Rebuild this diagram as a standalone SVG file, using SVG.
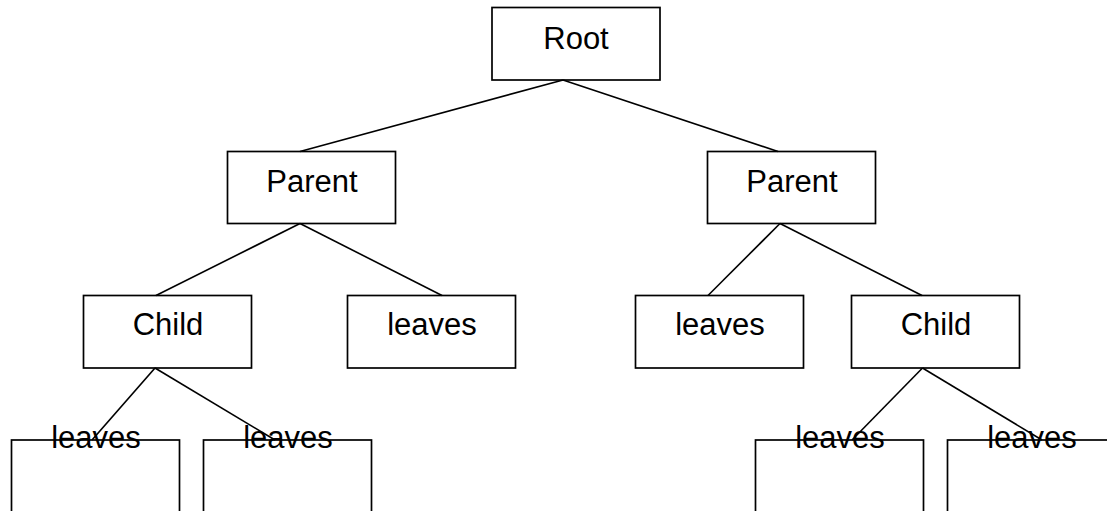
<svg xmlns="http://www.w3.org/2000/svg" width="1107" height="511" viewBox="0 0 1107 511">
<style>
.box{fill:#fff;stroke:#000;stroke-width:1.7}
.lbl{font-family:"Liberation Sans",Arial,sans-serif;font-size:31px;fill:#000;text-anchor:middle}
.edge{stroke:#000;stroke-width:1.6;fill:none}
</style>
<rect width="1107" height="511" fill="#fff"/>
<g id="root"><rect class="box" x="492" y="7.5" width="168" height="72.5"/><text class="lbl" x="576" y="49">Root</text></g>
<g id="parent-left"><rect class="box" x="227.5" y="151.5" width="168" height="72"/><text class="lbl" x="312" y="192">Parent</text></g>
<g id="parent-right"><rect class="box" x="707.5" y="151.5" width="168" height="72"/><text class="lbl" x="792" y="192">Parent</text></g>
<g id="child-left"><rect class="box" x="83.5" y="295.5" width="168" height="72.5"/><text class="lbl" x="168" y="334.5">Child</text></g>
<g id="leaves-left"><rect class="box" x="347.5" y="295.5" width="168" height="72.5"/><text class="lbl" x="432" y="334.5">leaves</text></g>
<g id="leaves-right"><rect class="box" x="635.5" y="295.5" width="168" height="72.5"/><text class="lbl" x="720" y="334.5">leaves</text></g>
<g id="child-right"><rect class="box" x="851.5" y="295.5" width="168" height="72.5"/><text class="lbl" x="936" y="334.5">Child</text></g>
<g id="leaf1"><rect class="box" x="11.5" y="440" width="168" height="72"/><text class="lbl" x="96" y="447.5">leaves</text></g>
<g id="leaf2"><rect class="box" x="203.5" y="440" width="168" height="72"/><text class="lbl" x="288" y="447.5">leaves</text></g>
<g id="leaf3"><rect class="box" x="755.5" y="440" width="168" height="72"/><text class="lbl" x="840" y="447.5">leaves</text></g>
<g id="leaf4"><rect class="box" x="947.5" y="440" width="168" height="72"/><text class="lbl" x="1032" y="447.5">leaves</text></g>
<g id="connectors">
<line class="edge" x1="563" y1="80" x2="300" y2="151.5"/>
<line class="edge" x1="563" y1="80" x2="778" y2="151.5"/>
<line class="edge" x1="300" y1="223.5" x2="156" y2="295.5"/>
<line class="edge" x1="300" y1="223.5" x2="442" y2="295.5"/>
<line class="edge" x1="780" y1="223.5" x2="708" y2="295.5"/>
<line class="edge" x1="780" y1="223.5" x2="922" y2="295.5"/>
<line class="edge" x1="155" y1="368" x2="92" y2="440"/>
<line class="edge" x1="155" y1="368" x2="275" y2="440"/>
<line class="edge" x1="922.5" y1="368" x2="852" y2="440"/>
<line class="edge" x1="922.5" y1="368" x2="1042" y2="440"/>
</g>
</svg>
